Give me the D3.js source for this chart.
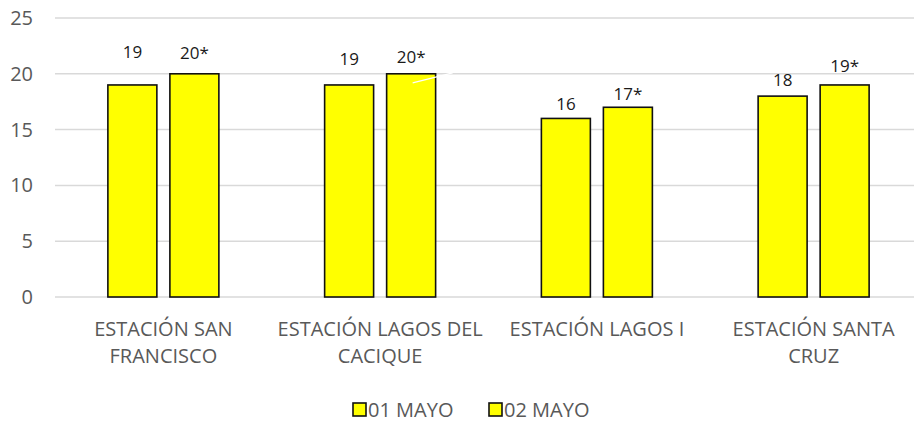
<!DOCTYPE html>
<html>
<head>
<meta charset="utf-8">
<script src="https://cdn.jsdelivr.net/npm/d3@7"></script>
<style>
  body { margin: 0; background: #fff; }
  svg { display: block; font-family: "Open Sans", sans-serif; }
</style>
</head>
<body>
<svg id="Vis" width="914" height="423"></svg>
<script>
// data
const categories = ["ESTACIÓN SAN FRANCISCO", "ESTACIÓN LAGOS DEL CACIQUE", "ESTACIÓN LAGOS I", "ESTACIÓN SANTA CRUZ"];
const categoryLines = [["ESTACIÓN SAN", "FRANCISCO"], ["ESTACIÓN LAGOS DEL", "CACIQUE"], ["ESTACIÓN LAGOS I"], ["ESTACIÓN SANTA", "CRUZ"]];
const seriesNames = ["01 MAYO", "02 MAYO"];
const mayo01 = [19, 19, 16, 18];
const mayo02 = [20, 20, 17, 19];
const labels01 = ["19", "19", "16", "18"];
const labels02 = ["20*", "20*", "17*", "19*"];
const yTicks = [0, 5, 10, 15, 20, 25];

// labels were dragged by hand in the original, so gap above each bar varies
const labelGap = [[27, 15], [20, 11], [8, 7], [10, 13]];

const margin = { top: 18, left: 55 };
const plotRight = 922;   // plot area runs past the right edge
const plotBottom = 297;

const svg = d3.select("svg#Vis");

const y = d3.scaleLinear().domain([0, 25]).range([plotBottom, margin.top]);
const x0 = d3.scaleBand().domain(categories).range([margin.left, plotRight]).padding(0);
const x1 = d3.scaleBand().domain(seriesNames).range([-55.5, 55.5]).paddingInner(0.21).paddingOuter(0);

/* GRID */
svg.append("g").attr("id", "grid")
  .selectAll("line")
  .data(yTicks)
  .enter()
  .append("line")
    .attr("x1", margin.left)
    .attr("x2", plotRight)
    .attr("y1", d => y(d))
    .attr("y2", d => y(d))
    .attr("stroke", "#d9d9d9")
    .attr("stroke-width", 1.5);

/* Y AXIS */
const yAxis = d3.axisLeft(y).tickValues(yTicks).tickSize(0).tickPadding(0);
const yGroup = svg.append("g").attr("transform", "translate(33,0)").call(yAxis);
yGroup.select(".domain").remove();
yGroup.selectAll("text")
  .attr("font-size", 20)
  .attr("font-family", "Open Sans")
  .attr("fill", "#595959");

/* BARS */
const rows = categories.map((c, i) => ({ cat: c, i: i, vals: [mayo01[i], mayo02[i]], labs: [labels01[i], labels02[i]] }));

const groups = svg.append("g").attr("id", "bars")
  .selectAll("g")
  .data(rows)
  .enter()
  .append("g")
    .attr("transform", d => translate(x0(d.cat) + x0.bandwidth() / 2, 0));

groups.selectAll("rect")
  .data(d => d.vals.map((v, k) => ({ s: seriesNames[k], v: v })))
  .enter()
  .append("rect")
    .attr("x", d => x1(d.s))
    .attr("y", d => y(d.v))
    .attr("width", x1.bandwidth())
    .attr("height", d => plotBottom - y(d.v))
    .attr("fill", "#ffff00")
    .attr("stroke", "#111")
    .attr("stroke-width", 1.6);

groups.selectAll("text")
  .data(d => d.vals.map((v, k) => ({ s: seriesNames[k], v: v, lab: d.labs[k], gap: labelGap[d.i][k] })))
  .enter()
  .append("text")
    .attr("x", d => x1(d.s) + x1.bandwidth() / 2)
    .attr("y", d => y(d.v) - d.gap)
    .attr("text-anchor", "middle")
    .attr("font-size", 17)
    .attr("fill", "#1a1a1a")
    .text(d => d.lab);

// white leader line left over from the moved label on Lagos del Cacique
const leadX = x0(categories[1]) + x0.bandwidth() / 2 + x1(seriesNames[1]);
svg.append("line")
  .attr("x1", leadX + 26).attr("y1", y(mayo02[1]) + 9)
  .attr("x2", leadX + 66).attr("y2", y(mayo02[1]) - 1)
  .attr("stroke", "#fff")
  .attr("stroke-width", 1.2);

/* CATEGORY LABELS */
const catText = svg.append("g").attr("id", "x-axis")
  .selectAll("text")
  .data(rows)
  .enter()
  .append("text")
    .attr("text-anchor", "middle")
    .attr("font-size", 20)
    .attr("fill", "#595959")
    .attr("transform", d => translate(x0(d.cat) + x0.bandwidth() / 2, 336));

catText.selectAll("tspan")
  .data(d => categoryLines[d.i])
  .enter()
  .append("tspan")
    .attr("x", 0)
    .attr("y", (d, k) => k * 27)
    .text(d => d);

/* LEGEND */
const legendX = [353, 489];
const legend = svg.append("g").attr("id", "legend")
  .selectAll("g")
  .data(seriesNames)
  .enter()
  .append("g")
    .attr("transform", (d, k) => translate(legendX[k], 403));

legend.append("rect")
  .attr("width", 13)
  .attr("height", 13)
  .attr("fill", "#ffff00")
  .attr("stroke", "#111")
  .attr("stroke-width", 1.6);

legend.append("text")
  .attr("x", 15)
  .attr("y", 14)
  .attr("font-size", 20)
  .attr("fill", "#595959")
  .text(d => d);

function translate(x, y) {
  return 'translate(' + String(x) + ',' + String(y) + ')';
}
</script>
</body>
</html>
